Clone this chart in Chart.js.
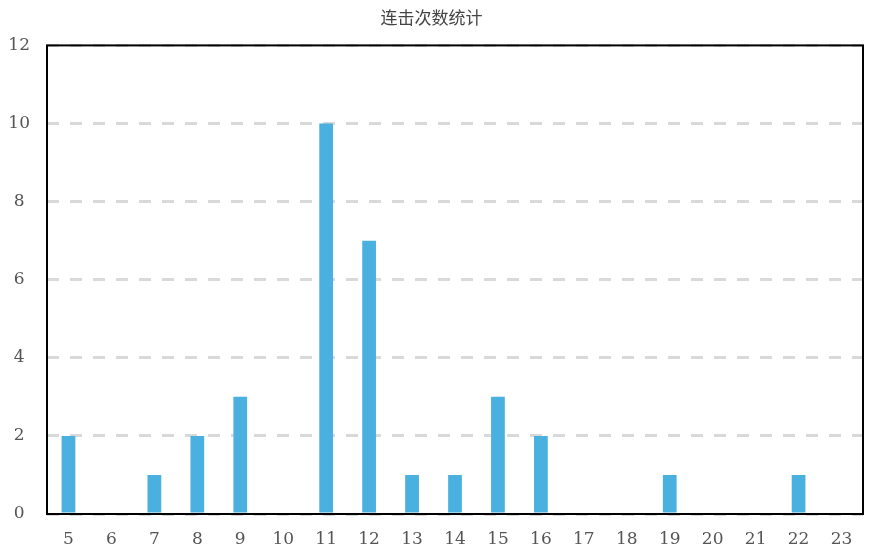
<!DOCTYPE html>
<html>
<head>
<meta charset="utf-8">
<script src="https://cdn.jsdelivr.net/npm/chart.js@4/dist/chart.umd.min.js"></script>
<style>
  html, body { margin: 0; padding: 0; background: #fff; }
  #wrap { width: 875px; height: 549px; }
</style>
</head>
<body>
<div id="wrap"><canvas id="myChart" width="875" height="549"></canvas></div>
<script>
// combo counts (连击次数) and how often each came up
var comboLabels = ["5", "6", "7", "8", "9", "10", "11", "12", "13", "14", "15", "16", "17", "18", "19", "20", "21", "22", "23"];
var comboCounts = [2, 0, 1, 2, 3, 0, 10, 7, 1, 1, 3, 2, 0, 0, 1, 0, 0, 1, 0];
var yTicks = [0, 2, 4, 6, 8, 10, 12];

// black frame round the plot area
var frame = {
    id: "frame",
    afterDraw: function(chart) {
        var a = chart.chartArea;
        var ctx = chart.ctx;
        ctx.save();
        ctx.strokeStyle = "#000";
        ctx.lineWidth = 2;
        ctx.strokeRect(a.left, a.top, a.right - a.left, a.bottom - a.top);
        ctx.restore();
    }
};

var ctx = document.getElementById("myChart");
var myChart = new Chart(ctx, {
    type: "bar",
    data: {
        labels: comboLabels,
        datasets: [{
            label: "连击次数",
            data: comboCounts,
            backgroundColor: "#4ab0e0",
            borderWidth: 0,
            barPercentage: 0.64,
            categoryPercentage: 0.5
        }]
    },
    options: {
        responsive: false,
        animation: false,
        layout: { padding: { left: 0, right: 12, top: 0, bottom: 0 } },
        plugins: {
            legend: { display: false },
            tooltip: { enabled: false },
            title: {
                display: true,
                text: "连击次数统计",
                color: "#444",
                font: { family: "'Noto Sans CJK SC'", size: 17, weight: "normal" },
                padding: { top: 7, bottom: 18 }
            }
        },
        scales: {
            x: {
                grid: { display: false },
                border: { display: false },
                ticks: {
                    color: "#555",
                    font: { family: "'DejaVu Serif'", size: 17 },
                    padding: 7,
                    maxRotation: 0,
                    autoSkip: false
                },
                afterFit: function(scale) { scale.height = 35; }
            },
            y: {
                min: 0,
                max: 12,
                afterBuildTicks: function(scale) {
                    scale.ticks = yTicks.map(function(v) { return { value: v }; });
                },
                grid: {
                    color: "#d9d9d9",
                    lineWidth: 3,
                    drawTicks: false
                },
                border: { display: false, dash: [12, 11] },
                ticks: {
                    color: "#555",
                    font: { family: "'DejaVu Serif'", size: 17 },
                    padding: 17,
                    crossAlign: "center"
                },
                afterFit: function(scale) { scale.width = 47; }
            }
        }
    },
    plugins: [frame]
});
</script>
</body>
</html>
